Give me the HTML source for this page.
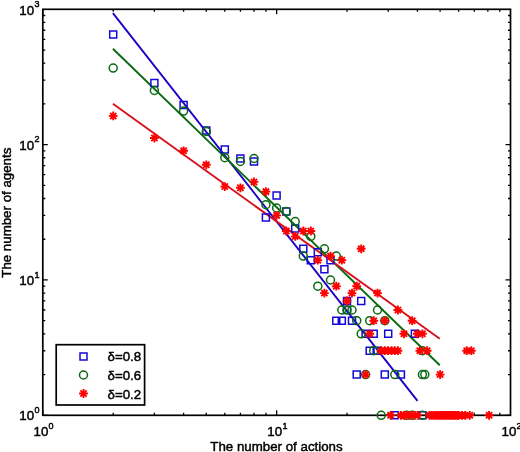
<!DOCTYPE html><html><head><meta charset="utf-8"><title>Figure</title><style>html,body{margin:0;padding:0;background:#fff}</style></head><body><svg width="520" height="452" viewBox="0 0 520 452" style="display:block;filter:blur(0.3px)">
<rect width="520" height="452" fill="#fff"/>
<path d="M42.80 415.3v-5M42.80 9.3v5M113.20 415.3v-2.5M113.20 9.3v2.5M154.37 415.3v-2.5M154.37 9.3v2.5M183.59 415.3v-2.5M183.59 9.3v2.5M206.25 415.3v-2.5M206.25 9.3v2.5M224.77 415.3v-2.5M224.77 9.3v2.5M240.43 415.3v-2.5M240.43 9.3v2.5M253.99 415.3v-2.5M253.99 9.3v2.5M265.95 415.3v-2.5M265.95 9.3v2.5M276.65 415.3v-5M276.65 9.3v5M347.05 415.3v-2.5M347.05 9.3v2.5M388.22 415.3v-2.5M388.22 9.3v2.5M417.44 415.3v-2.5M417.44 9.3v2.5M440.10 415.3v-2.5M440.10 9.3v2.5M458.62 415.3v-2.5M458.62 9.3v2.5M474.28 415.3v-2.5M474.28 9.3v2.5M487.84 415.3v-2.5M487.84 9.3v2.5M499.80 415.3v-2.5M499.80 9.3v2.5M42.8 415.30h5M510.5 415.30h-5M42.8 374.56h2.5M510.5 374.56h-2.5M42.8 350.73h2.5M510.5 350.73h-2.5M42.8 333.82h2.5M510.5 333.82h-2.5M42.8 320.71h2.5M510.5 320.71h-2.5M42.8 309.99h2.5M510.5 309.99h-2.5M42.8 300.93h2.5M510.5 300.93h-2.5M42.8 293.08h2.5M510.5 293.08h-2.5M42.8 286.16h2.5M510.5 286.16h-2.5M42.8 279.97h5M510.5 279.97h-5M42.8 239.23h2.5M510.5 239.23h-2.5M42.8 215.40h2.5M510.5 215.40h-2.5M42.8 198.49h2.5M510.5 198.49h-2.5M42.8 185.37h2.5M510.5 185.37h-2.5M42.8 174.66h2.5M510.5 174.66h-2.5M42.8 165.60h2.5M510.5 165.60h-2.5M42.8 157.75h2.5M510.5 157.75h-2.5M42.8 150.83h2.5M510.5 150.83h-2.5M42.8 144.63h5M510.5 144.63h-5M42.8 103.89h2.5M510.5 103.89h-2.5M42.8 80.06h2.5M510.5 80.06h-2.5M42.8 63.15h2.5M510.5 63.15h-2.5M42.8 50.04h2.5M510.5 50.04h-2.5M42.8 39.32h2.5M510.5 39.32h-2.5M42.8 30.26h2.5M510.5 30.26h-2.5M42.8 22.42h2.5M510.5 22.42h-2.5M42.8 15.49h2.5M510.5 15.49h-2.5" stroke="#000" stroke-width="1.3" fill="none"/>
<rect x="42.8" y="9.3" width="467.7" height="406.0" fill="none" stroke="#000" stroke-width="1.7"/>
<g fill="none" stroke-width="1.9" stroke-linecap="butt">
<path d="M112.9 13.1L417.5 400.8" stroke="#1c00c4"/>
<path d="M112.9 48.7L439.8 365.2" stroke="#0a6a10"/>
<path d="M112.9 103.7L439.8 338.8" stroke="#d8101c"/>
</g>
<path d="M109.7 31.1h7.0v7.0h-7.0zM150.9 79.6h7.0v7.0h-7.0zM180.1 101.6h7.0v7.0h-7.0zM202.8 127.1h7.0v7.0h-7.0zM221.3 146.0h7.0v7.0h-7.0zM236.9 155.0h7.0v7.0h-7.0zM250.5 158.0h7.0v7.0h-7.0zM262.4 213.9h7.0v7.0h-7.0zM273.1 192.1h7.0v7.0h-7.0zM282.8 208.1h7.0v7.0h-7.0zM291.7 225.0h7.0v7.0h-7.0zM299.8 245.3h7.0v7.0h-7.0zM307.3 256.7h7.0v7.0h-7.0zM314.3 248.8h7.0v7.0h-7.0zM320.9 265.8h7.0v7.0h-7.0zM327.0 256.7h7.0v7.0h-7.0zM343.5 297.4h7.0v7.0h-7.0zM357.7 297.4h7.0v7.0h-7.0zM343.5 306.5h7.0v7.0h-7.0zM332.8 317.2h7.0v7.0h-7.0zM338.3 317.2h7.0v7.0h-7.0zM348.5 317.2h7.0v7.0h-7.0zM362.1 330.3h7.0v7.0h-7.0zM370.2 330.3h7.0v7.0h-7.0zM384.7 330.3h7.0v7.0h-7.0zM411.4 330.3h7.0v7.0h-7.0zM366.2 347.2h7.0v7.0h-7.0zM374.0 347.2h7.0v7.0h-7.0zM353.2 371.1h7.0v7.0h-7.0zM381.3 371.1h7.0v7.0h-7.0zM397.4 371.1h7.0v7.0h-7.0zM391.3 411.8h7.0v7.0h-7.0zM418.9 411.8h7.0v7.0h-7.0z" fill="none" stroke="#1408d8" stroke-width="1.5"/>
<g fill="none" stroke="#0a6a10" stroke-width="1.5"><circle cx="113.2" cy="68.1" r="4.0"/><circle cx="154.4" cy="90.5" r="4.0"/><circle cx="183.6" cy="111.1" r="4.0"/><circle cx="206.3" cy="131.5" r="4.0"/><circle cx="224.8" cy="157.7" r="4.0"/><circle cx="240.4" cy="161.5" r="4.0"/><circle cx="254.0" cy="158.5" r="4.0"/><circle cx="265.9" cy="204.7" r="4.0"/><circle cx="276.6" cy="208.0" r="4.0"/><circle cx="286.3" cy="211.6" r="4.0"/><circle cx="295.2" cy="221.6" r="4.0"/><circle cx="303.3" cy="256.1" r="4.0"/><circle cx="310.8" cy="236.4" r="4.0"/><circle cx="317.8" cy="286.2" r="4.0"/><circle cx="324.4" cy="248.8" r="4.0"/><circle cx="330.5" cy="280.0" r="4.0"/><circle cx="336.3" cy="256.1" r="4.0"/><circle cx="341.8" cy="310.0" r="4.0"/><circle cx="347.0" cy="310.0" r="4.0"/><circle cx="352.0" cy="310.0" r="4.0"/><circle cx="377.5" cy="310.0" r="4.0"/><circle cx="356.7" cy="320.7" r="4.0"/><circle cx="369.7" cy="320.7" r="4.0"/><circle cx="384.8" cy="320.7" r="4.0"/><circle cx="361.2" cy="333.8" r="4.0"/><circle cx="373.7" cy="350.7" r="4.0"/><circle cx="422.4" cy="350.7" r="4.0"/><circle cx="365.6" cy="374.6" r="4.0"/><circle cx="394.8" cy="374.6" r="4.0"/><circle cx="422.4" cy="374.6" r="4.0"/><circle cx="424.8" cy="374.6" r="4.0"/><circle cx="381.2" cy="415.3" r="4.0"/><circle cx="406.7" cy="415.3" r="4.0"/><circle cx="412.2" cy="415.3" r="4.0"/><circle cx="422.4" cy="415.3" r="4.0"/></g>
<path id="stars" d="M113.2 111.5L113.2 120.3M116.3 112.8L110.1 119.0M117.6 115.9L108.8 115.9M116.3 119.0L110.1 112.8M154.4 133.6L154.4 142.4M157.5 134.9L151.3 141.1M158.8 138.0L150.0 138.0M157.5 141.1L151.3 134.9M183.6 146.4L183.6 155.2M186.7 147.7L180.5 153.9M188.0 150.8L179.2 150.8M186.7 153.9L180.5 147.7M206.3 160.4L206.3 169.2M209.4 161.7L203.1 167.9M210.7 164.8L201.9 164.8M209.4 167.9L203.1 161.7M224.8 182.2L224.8 191.0M227.9 183.4L221.7 189.7M229.2 186.6L220.4 186.6M227.9 189.7L221.7 183.4M240.4 183.4L240.4 192.2M243.5 184.7L237.3 190.9M244.8 187.8L236.0 187.8M243.5 190.9L237.3 184.7M254.0 177.5L254.0 186.3M257.1 178.8L250.9 185.1M258.4 181.9L249.6 181.9M257.1 185.1L250.9 178.8M265.9 187.2L265.9 196.0M269.1 188.5L262.8 194.7M270.3 191.6L261.5 191.6M269.1 194.7L262.8 188.5M276.6 211.0L276.6 219.8M279.8 212.3L273.5 218.5M281.0 215.4L272.2 215.4M279.8 218.5L273.5 212.3M286.3 226.6L286.3 235.4M289.4 227.9L283.2 234.1M290.7 231.0L281.9 231.0M289.4 234.1L283.2 227.9M295.2 232.0L295.2 240.8M298.3 233.2L292.1 239.5M299.6 236.4L290.8 236.4M298.3 239.5L292.1 233.2M303.3 226.6L303.3 235.4M306.4 227.9L300.2 234.1M307.7 231.0L298.9 231.0M306.4 234.1L300.2 227.9M310.8 226.6L310.8 235.4M313.9 227.9L307.7 234.1M315.2 231.0L306.4 231.0M313.9 234.1L307.7 227.9M317.8 255.8L317.8 264.6M320.9 257.1L314.7 263.3M322.2 260.2L313.4 260.2M320.9 263.3L314.7 257.1M330.5 251.7L330.5 260.5M333.7 253.0L327.4 259.2M334.9 256.1L326.1 256.1M333.7 259.2L327.4 253.0M341.8 255.8L341.8 264.6M344.9 257.1L338.7 263.3M346.2 260.2L337.4 260.2M344.9 263.3L338.7 257.1M361.2 244.4L361.2 253.2M364.4 245.7L358.1 251.9M365.6 248.8L356.8 248.8M364.4 251.9L358.1 245.7M324.4 288.7L324.4 297.5M327.5 290.0L321.3 296.2M328.8 293.1L320.0 293.1M327.5 296.2L321.3 290.0M352.0 288.7L352.0 297.5M355.1 290.0L348.9 296.2M356.4 293.1L347.6 293.1M355.1 296.2L348.9 290.0M377.5 288.7L377.5 297.5M380.6 290.0L374.4 296.2M381.9 293.1L373.1 293.1M380.6 296.2L374.4 290.0M336.3 281.8L336.3 290.6M339.5 283.0L333.2 289.3M340.7 286.2L331.9 286.2M339.5 289.3L333.2 283.0M356.7 281.8L356.7 290.6M359.8 283.0L353.6 289.3M361.1 286.2L352.3 286.2M359.8 289.3L353.6 283.0M347.0 296.5L347.0 305.3M350.2 297.8L343.9 304.0M351.4 300.9L342.6 300.9M350.2 304.0L343.9 297.8M397.9 305.6L397.9 314.4M401.0 306.9L394.8 313.1M402.3 310.0L393.5 310.0M401.0 313.1L394.8 306.9M373.7 316.3L373.7 325.1M376.8 317.6L370.6 323.8M378.1 320.7L369.3 320.7M376.8 323.8L370.6 317.6M384.8 316.3L384.8 325.1M387.9 317.6L381.7 323.8M389.2 320.7L380.4 320.7M387.9 323.8L381.7 317.6M412.2 316.3L412.2 325.1M415.3 317.6L409.1 323.8M416.6 320.7L407.8 320.7M415.3 323.8L409.1 317.6M369.7 329.4L369.7 338.2M372.8 330.7L366.6 336.9M374.1 333.8L365.3 333.8M372.8 336.9L366.6 330.7M403.9 329.4L403.9 338.2M407.0 330.7L400.8 336.9M408.3 333.8L399.5 333.8M407.0 336.9L400.8 330.7M417.4 329.4L417.4 338.2M420.6 330.7L414.3 336.9M421.8 333.8L413.0 333.8M420.6 336.9L414.3 330.7M422.4 329.4L422.4 338.2M425.5 330.7L419.3 336.9M426.8 333.8L418.0 333.8M425.5 336.9L419.3 330.7M381.2 346.3L381.2 355.1M384.3 347.6L378.1 353.8M385.6 350.7L376.8 350.7M384.3 353.8L378.1 347.6M384.8 346.3L384.8 355.1M387.9 347.6L381.7 353.8M389.2 350.7L380.4 350.7M387.9 353.8L381.7 347.6M388.2 346.3L388.2 355.1M391.3 347.6L385.1 353.8M392.6 350.7L383.8 350.7M391.3 353.8L385.1 347.6M391.6 346.3L391.6 355.1M394.7 347.6L388.4 353.8M396.0 350.7L387.2 350.7M394.7 353.8L388.4 347.6M394.8 346.3L394.8 355.1M397.9 347.6L391.7 353.8M399.2 350.7L390.4 350.7M397.9 353.8L391.7 347.6M397.9 346.3L397.9 355.1M401.0 347.6L394.8 353.8M402.3 350.7L393.5 350.7M401.0 353.8L394.8 347.6M419.9 346.3L419.9 355.1M423.1 347.6L416.8 353.8M424.3 350.7L415.5 350.7M423.1 353.8L416.8 347.6M427.1 346.3L427.1 355.1M430.2 347.6L424.0 353.8M431.5 350.7L422.7 350.7M430.2 353.8L424.0 347.6M466.7 346.3L466.7 355.1M469.9 347.6L463.6 353.8M471.1 350.7L462.3 350.7M469.9 353.8L463.6 347.6M471.3 346.3L471.3 355.1M474.4 347.6L468.2 353.8M475.7 350.7L466.9 350.7M474.4 353.8L468.2 347.6M365.6 370.2L365.6 379.0M368.7 371.4L362.5 377.7M370.0 374.6L361.2 374.6M368.7 377.7L362.5 371.4M440.1 370.2L440.1 379.0M443.2 371.4L437.0 377.7M444.5 374.6L435.7 374.6M443.2 377.7L437.0 371.4M390.6 410.9L390.6 419.7M393.7 412.2L387.5 418.4M395.0 415.3L386.2 415.3M393.7 418.4L387.5 412.2M400.9 410.9L400.9 419.7M404.0 412.2L397.8 418.4M405.3 415.3L396.5 415.3M404.0 418.4L397.8 412.2M403.9 410.9L403.9 419.7M407.0 412.2L400.8 418.4M408.3 415.3L399.5 415.3M407.0 418.4L400.8 412.2M406.7 410.9L406.7 419.7M409.9 412.2L403.6 418.4M411.1 415.3L402.3 415.3M409.9 418.4L403.6 412.2M409.5 410.9L409.5 419.7M412.6 412.2L406.4 418.4M413.9 415.3L405.1 415.3M412.6 418.4L406.4 412.2M412.2 410.9L412.2 419.7M415.3 412.2L409.1 418.4M416.6 415.3L407.8 415.3M415.3 418.4L409.1 412.2M414.9 410.9L414.9 419.7M418.0 412.2L411.8 418.4M419.3 415.3L410.5 415.3M418.0 418.4L411.8 412.2M417.4 410.9L417.4 419.7M420.6 412.2L414.3 418.4M421.8 415.3L413.0 415.3M420.6 418.4L414.3 412.2M429.4 410.9L429.4 419.7M432.5 412.2L426.3 418.4M433.8 415.3L425.0 415.3M432.5 418.4L426.3 412.2M431.6 410.9L431.6 419.7M434.7 412.2L428.5 418.4M436.0 415.3L427.2 415.3M434.7 418.4L428.5 412.2M433.8 410.9L433.8 419.7M436.9 412.2L430.7 418.4M438.2 415.3L429.4 415.3M436.9 418.4L430.7 412.2M436.0 410.9L436.0 419.7M439.1 412.2L432.8 418.4M440.4 415.3L431.6 415.3M439.1 418.4L432.8 412.2M438.1 410.9L438.1 419.7M441.2 412.2L434.9 418.4M442.5 415.3L433.7 415.3M441.2 418.4L434.9 412.2M440.1 410.9L440.1 419.7M443.2 412.2L437.0 418.4M444.5 415.3L435.7 415.3M443.2 418.4L437.0 412.2M442.1 410.9L442.1 419.7M445.2 412.2L439.0 418.4M446.5 415.3L437.7 415.3M445.2 418.4L439.0 412.2M444.1 410.9L444.1 419.7M447.2 412.2L441.0 418.4M448.5 415.3L439.7 415.3M447.2 418.4L441.0 412.2M446.0 410.9L446.0 419.7M449.1 412.2L442.9 418.4M450.4 415.3L441.6 415.3M449.1 418.4L442.9 412.2M447.9 410.9L447.9 419.7M451.0 412.2L444.8 418.4M452.3 415.3L443.5 415.3M451.0 418.4L444.8 412.2M449.8 410.9L449.8 419.7M452.9 412.2L446.7 418.4M454.2 415.3L445.4 415.3M452.9 418.4L446.7 412.2M451.6 410.9L451.6 419.7M454.7 412.2L448.5 418.4M456.0 415.3L447.2 415.3M454.7 418.4L448.5 412.2M453.4 410.9L453.4 419.7M456.5 412.2L450.3 418.4M457.8 415.3L449.0 415.3M456.5 418.4L450.3 412.2M455.2 410.9L455.2 419.7M458.3 412.2L452.1 418.4M459.6 415.3L450.8 415.3M458.3 418.4L452.1 412.2M456.9 410.9L456.9 419.7M460.0 412.2L453.8 418.4M461.3 415.3L452.5 415.3M460.0 418.4L453.8 412.2M458.6 410.9L458.6 419.7M461.7 412.2L455.5 418.4M463.0 415.3L454.2 415.3M461.7 418.4L455.5 412.2M462.0 410.9L462.0 419.7M465.1 412.2L458.8 418.4M466.4 415.3L457.6 415.3M465.1 418.4L458.8 412.2M465.2 410.9L465.2 419.7M468.3 412.2L462.1 418.4M469.6 415.3L460.8 415.3M468.3 418.4L462.1 412.2M469.8 410.9L469.8 419.7M472.9 412.2L466.7 418.4M474.2 415.3L465.4 415.3M472.9 418.4L466.7 412.2M489.1 410.9L489.1 419.7M492.2 412.2L486.0 418.4M493.5 415.3L484.7 415.3M492.2 418.4L486.0 412.2" fill="none" stroke="#ff0000" stroke-width="1.9"/>
<rect x="56.2" y="344.7" width="88.4" height="60.3" fill="#fff" stroke="#000" stroke-width="1.7"/>
<path d="M80.0 353.0h7.0v7.0h-7.0z" fill="none" stroke="#1408d8" stroke-width="1.5"/>
<circle cx="83.5" cy="375" r="4.0" fill="none" stroke="#0a6a10" stroke-width="1.5"/>
<path d="M83.5 389.1L83.5 397.9M86.6 390.4L80.4 396.6M87.9 393.5L79.1 393.5M86.6 396.6L80.4 390.4" fill="none" stroke="#ff0000" stroke-width="1.9"/>
<g font-family="'Liberation Sans', Arial, sans-serif" fill="#000" stroke="#000" stroke-width="0.45">
<g font-size="13.3">
<text x="107.5" y="361">δ=0.8</text>
<text x="107.5" y="379.5">δ=0.6</text>
<text x="107.5" y="398.5">δ=0.2</text>
<text x="276.5" y="450.5" text-anchor="middle">The number of actions</text>
<text transform="translate(11.3 212.7) rotate(-90)" text-anchor="middle">The number of agents</text>
<text x="33.5" y="436">10<tspan font-size="9" dy="-7.5" dx="0.3">0</tspan></text>
<text x="267.3" y="436">10<tspan font-size="9" dy="-7.5" dx="0.3">1</tspan></text>
<text x="501.5" y="436">10<tspan font-size="9" dy="-7.5" dx="0.3">2</tspan></text>
<text x="19.3" y="420.2">10<tspan font-size="9" dy="-7.5" dx="0.3">0</tspan></text>
<text x="19.3" y="285">10<tspan font-size="9" dy="-7.5" dx="0.3">1</tspan></text>
<text x="19.3" y="149.7">10<tspan font-size="9" dy="-7.5" dx="0.3">2</tspan></text>
<text x="19.3" y="14.5">10<tspan font-size="9" dy="-7.5" dx="0.3">3</tspan></text>
</g></g></svg></body></html>
